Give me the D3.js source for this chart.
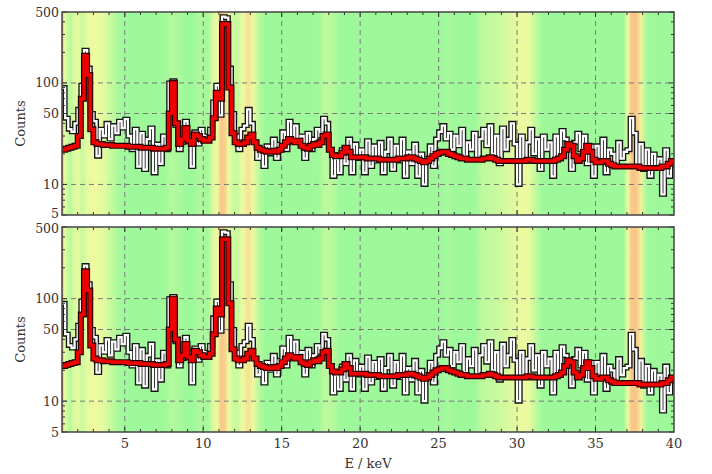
<!DOCTYPE html>
<html><head><meta charset="utf-8">
<script src="https://cdn.jsdelivr.net/npm/d3@7"></script>
<style>body{margin:0;background:#fff}svg{display:block}</style>
</head><body>
<script>
// ---- data ----
const binStart = 1.0, binWidth = 0.2;
// measured counts per 0.2 keV bin, 1..40 keV (5 bins per keV)
const counts = [
 90,45,35,33,40,   55,95,210,140,50,   42,19,35,30,40,   28,38,32,42,36,
 44,30,22,35,15,   32,14,28,36,13,     25,16,30,22,100,  105,38,22,26,42,
 30,15,33,25,35,   30,28,35,65,95,     48,450,440,140,50, 30,22,35,38,55,
 40,26,18,22,15,   24,20,28,18,25,     33,22,42,28,38,   26,30,18,32,22,
 28,35,30,45,40,   22,12,18,13,22,     16,28,13,25,18,   22,13,27,15,24,
 17,26,13,21,28,   14,24,17,28,12,     21,16,25,12,20,   10,18,24,15,28,
 33,38,28,32,22,   30,24,35,19,26,     22,32,18,28,35,   24,38,20,30,16,
 36,22,28,40,25,   10,30,18,26,35,     20,28,14,30,22,   26,12,30,18,34,
 28,22,14,26,32,   22,30,16,24,12,     24,17,28,13,22,   20,16,26,18,21,
 22,45,32,15,25,   14,22,12,20,15,     18,8,22,12,17
];
// fitted model per bin
const model = [
 22,22.5,23,23.5,24,  30,70,185,120,35,  26,25,25,24.5,24.5,  24.5,24,24,24,24,
 24,23.5,23.5,23.5,23.5,  23,23,23,23,22.5,  22.5,22.5,22.5,23,50,  100,40,25,28,36,
 27,25,31,30,28,  27,27,29,45,80,  70,380,380,90,32,  26,25,25,26,29,
 31,26,23,22,21.5,  21,21,21.5,21,22,  24,26,28,27,26,  27,24,23,22.5,24,
 25,24.5,26,30,31,  22,19.5,19,19,20.5,  23,21,18.5,18.5,18.5,  18.5,18.5,18,18,18,
 18,17.5,17.5,17.5,17.5,  17.5,17.5,18,18,18,  18.5,18.5,18,17.5,17,  16.5,17,18,19,20,
 20.5,21,21,20,19.5,  19,18.5,18,18,17.5,  17.5,17.5,17.5,17.5,18,  18,18.5,18,17.5,17,
 17,17,17,17,17,  17,17,17,17.5,17.5,  17,17,17,17,17,  17,17,17.5,18,19,
 22,25,24,19,17,  18,21,24,21,17.5,  16.5,16.5,17,17,16,  15.5,15,15,15,15,
 15,15,15,15,14.5,  14.5,14.5,14.5,14.5,14.5,  14.5,15,15,16,17
];
// background significance map (energy, level 0..1)
const bgE = [1.0,1.08,1.15,1.3,1.5,1.75,2.0,2.3,2.6,3.0,3.6,4.0,4.6,5.0,7.5,7.9,8.4,8.8,9.4,9.8,10.3,10.6,10.9,11.15,11.4,11.6,11.9,12.2,12.5,12.85,13.2,13.5,13.9,17.3,17.8,18.3,18.7,25.2,25.6,26.0,27.3,27.8,28.6,29.3,30.3,30.8,31.2,31.6,36.8,37.05,37.3,37.6,37.9,38.2,38.4,40];
const bgV = [0.95,0.8,0.45,0.35,0.15,0.35,0.45,0.25,0.45,0.5,0.45,0.3,0.05,0,0,0.12,0.1,0,0,0.1,0.05,0.35,0.5,0.8,0.75,0.5,0.3,0.25,0.5,0.65,0.5,0.2,0,0,0.2,0.15,0,0,0.08,0,0,0.2,0.25,0.35,0.5,0.45,0.2,0,0,0.5,0.8,0.8,0.55,0.1,0,0];
const xTicks = [5,10,15,20,25,30,35,40];
const yLabels = [5,10,50,100,500];
const yMinor = [6,7,8,9,20,30,40,60,70,80,90,200,300,400];
const gridY = [10,50,100];
const gridX = [5,10,15,20,25,30,35];

// ---- layout ----
const W = 712, H = 474;
const left = 62, right = 674;
const panels = [{top: 12, bottom: 215, xlabels: false}, {top: 227, bottom: 432, xlabels: true}];
const font = "DejaVu Serif";

const svg = d3.select("body").append("svg").attr("width", W).attr("height", H);
const x = d3.scaleLinear().domain([1, 40]).range([left, right]);
const color = d3.scaleLinear().domain([0, 0.5, 0.75, 1])
  .range(["#9ef99b", "#eefaa0", "#fad08c", "#f4a07c"]);

const defs = svg.append("defs");
const grad = defs.append("linearGradient").attr("id", "bg")
  .attr("gradientUnits", "userSpaceOnUse")
  .attr("x1", x(1)).attr("x2", x(40)).attr("y1", 0).attr("y2", 0);
bgE.forEach((e, i) => grad.append("stop")
  .attr("offset", (e - 1) / 39).attr("stop-color", color(bgV[i])));

const pts = counts.map((c, i) => [binStart + i * binWidth, c]);
pts.push([40, counts[counts.length - 1]]);
const mpts = model.map((c, i) => [binStart + i * binWidth, c]);
mpts.push([40, model[model.length - 1]]);

panels.forEach((p, pi) => {
  const y = d3.scaleLog().domain([5, 500]).range([p.bottom, p.top]);
  const g = svg.append("g");
  defs.append("clipPath").attr("id", "clip" + pi).append("rect")
    .attr("x", left).attr("y", p.top).attr("width", right - left).attr("height", p.bottom - p.top);

  g.append("rect").attr("x", left).attr("y", p.top).attr("width", right - left)
    .attr("height", p.bottom - p.top).attr("fill", "url(#bg)");

  // grid
  gridX.forEach(v => g.append("line").attr("x1", x(v)).attr("x2", x(v))
    .attr("y1", p.top).attr("y2", p.bottom)
    .attr("stroke", "#7a7a7a").attr("stroke-width", 1).attr("stroke-dasharray", "5,4"));
  gridY.forEach(v => g.append("line").attr("x1", left).attr("x2", right)
    .attr("y1", y(v)).attr("y2", y(v))
    .attr("stroke", "#7a7a7a").attr("stroke-width", 1).attr("stroke-dasharray", "5,4"));

  const line = d3.line().x(d => x(d[0])).y(d => y(d[1])).curve(d3.curveStepAfter);
  const cg = g.append("g").attr("clip-path", `url(#clip${pi})`);
  cg.append("path").attr("d", line(pts)).attr("fill", "none")
    .attr("stroke", "#151515").attr("stroke-width", 5).attr("stroke-linejoin", "miter");
  cg.append("path").attr("d", line(pts)).attr("fill", "none")
    .attr("stroke", "#fff").attr("stroke-width", 2.3);
  cg.append("path").attr("d", line(mpts)).attr("fill", "none")
    .attr("stroke", "#220000").attr("stroke-width", 6);
  cg.append("path").attr("d", line(mpts)).attr("fill", "none")
    .attr("stroke", "#ee0000").attr("stroke-width", 3.6);

  // ticks (inward, all sides)
  const tk = g.append("g").attr("stroke", "#333").attr("stroke-width", 1);
  d3.range(2, 40).forEach(v => {
    const major = v % 5 === 0;
    const len = major ? 5 : 3;
    tk.append("line").attr("x1", x(v)).attr("x2", x(v)).attr("y1", p.bottom).attr("y2", p.bottom - len);
    tk.append("line").attr("x1", x(v)).attr("x2", x(v)).attr("y1", p.top).attr("y2", p.top + len);
  });
  yLabels.concat(yMinor).forEach(v => {
    const major = yLabels.includes(v);
    const len = major ? 5 : 3;
    tk.append("line").attr("x1", left).attr("x2", left + len).attr("y1", y(v)).attr("y2", y(v));
    tk.append("line").attr("x1", right).attr("x2", right - len).attr("y1", y(v)).attr("y2", y(v));
  });

  g.append("rect").attr("x", left).attr("y", p.top).attr("width", right - left)
    .attr("height", p.bottom - p.top).attr("fill", "none")
    .attr("stroke", "#444").attr("stroke-width", 1.5);

  // y labels
  yLabels.forEach(v => {
    let dy = 4.5;
    if (pi === 0 && v === 5) dy = 3;
    if (pi === 1 && v === 500) dy = 6;
    g.append("text").attr("x", left - 3).attr("y", y(v) + dy)
      .attr("text-anchor", "end").attr("font-family", font).attr("font-size", 12.5)
      .attr("fill", "#333").text(v);
  });
  g.append("text").attr("transform", `translate(25,${(p.top + p.bottom) / 2 + 10}) rotate(-90)`)
    .attr("text-anchor", "middle").attr("font-family", font).attr("font-size", 13)
    .attr("fill", "#333").text("Counts");

  if (p.xlabels) {
    xTicks.forEach(v => g.append("text").attr("x", x(v)).attr("y", p.bottom + 16)
      .attr("text-anchor", "middle").attr("font-family", font).attr("font-size", 13)
      .attr("fill", "#333").text(v));
    g.append("text").attr("x", (left + right) / 2).attr("y", p.bottom + 36)
      .attr("text-anchor", "middle").attr("font-family", font).attr("font-size", 13)
      .attr("fill", "#333").text("E / keV");
  }
});
</script>
</body></html>
